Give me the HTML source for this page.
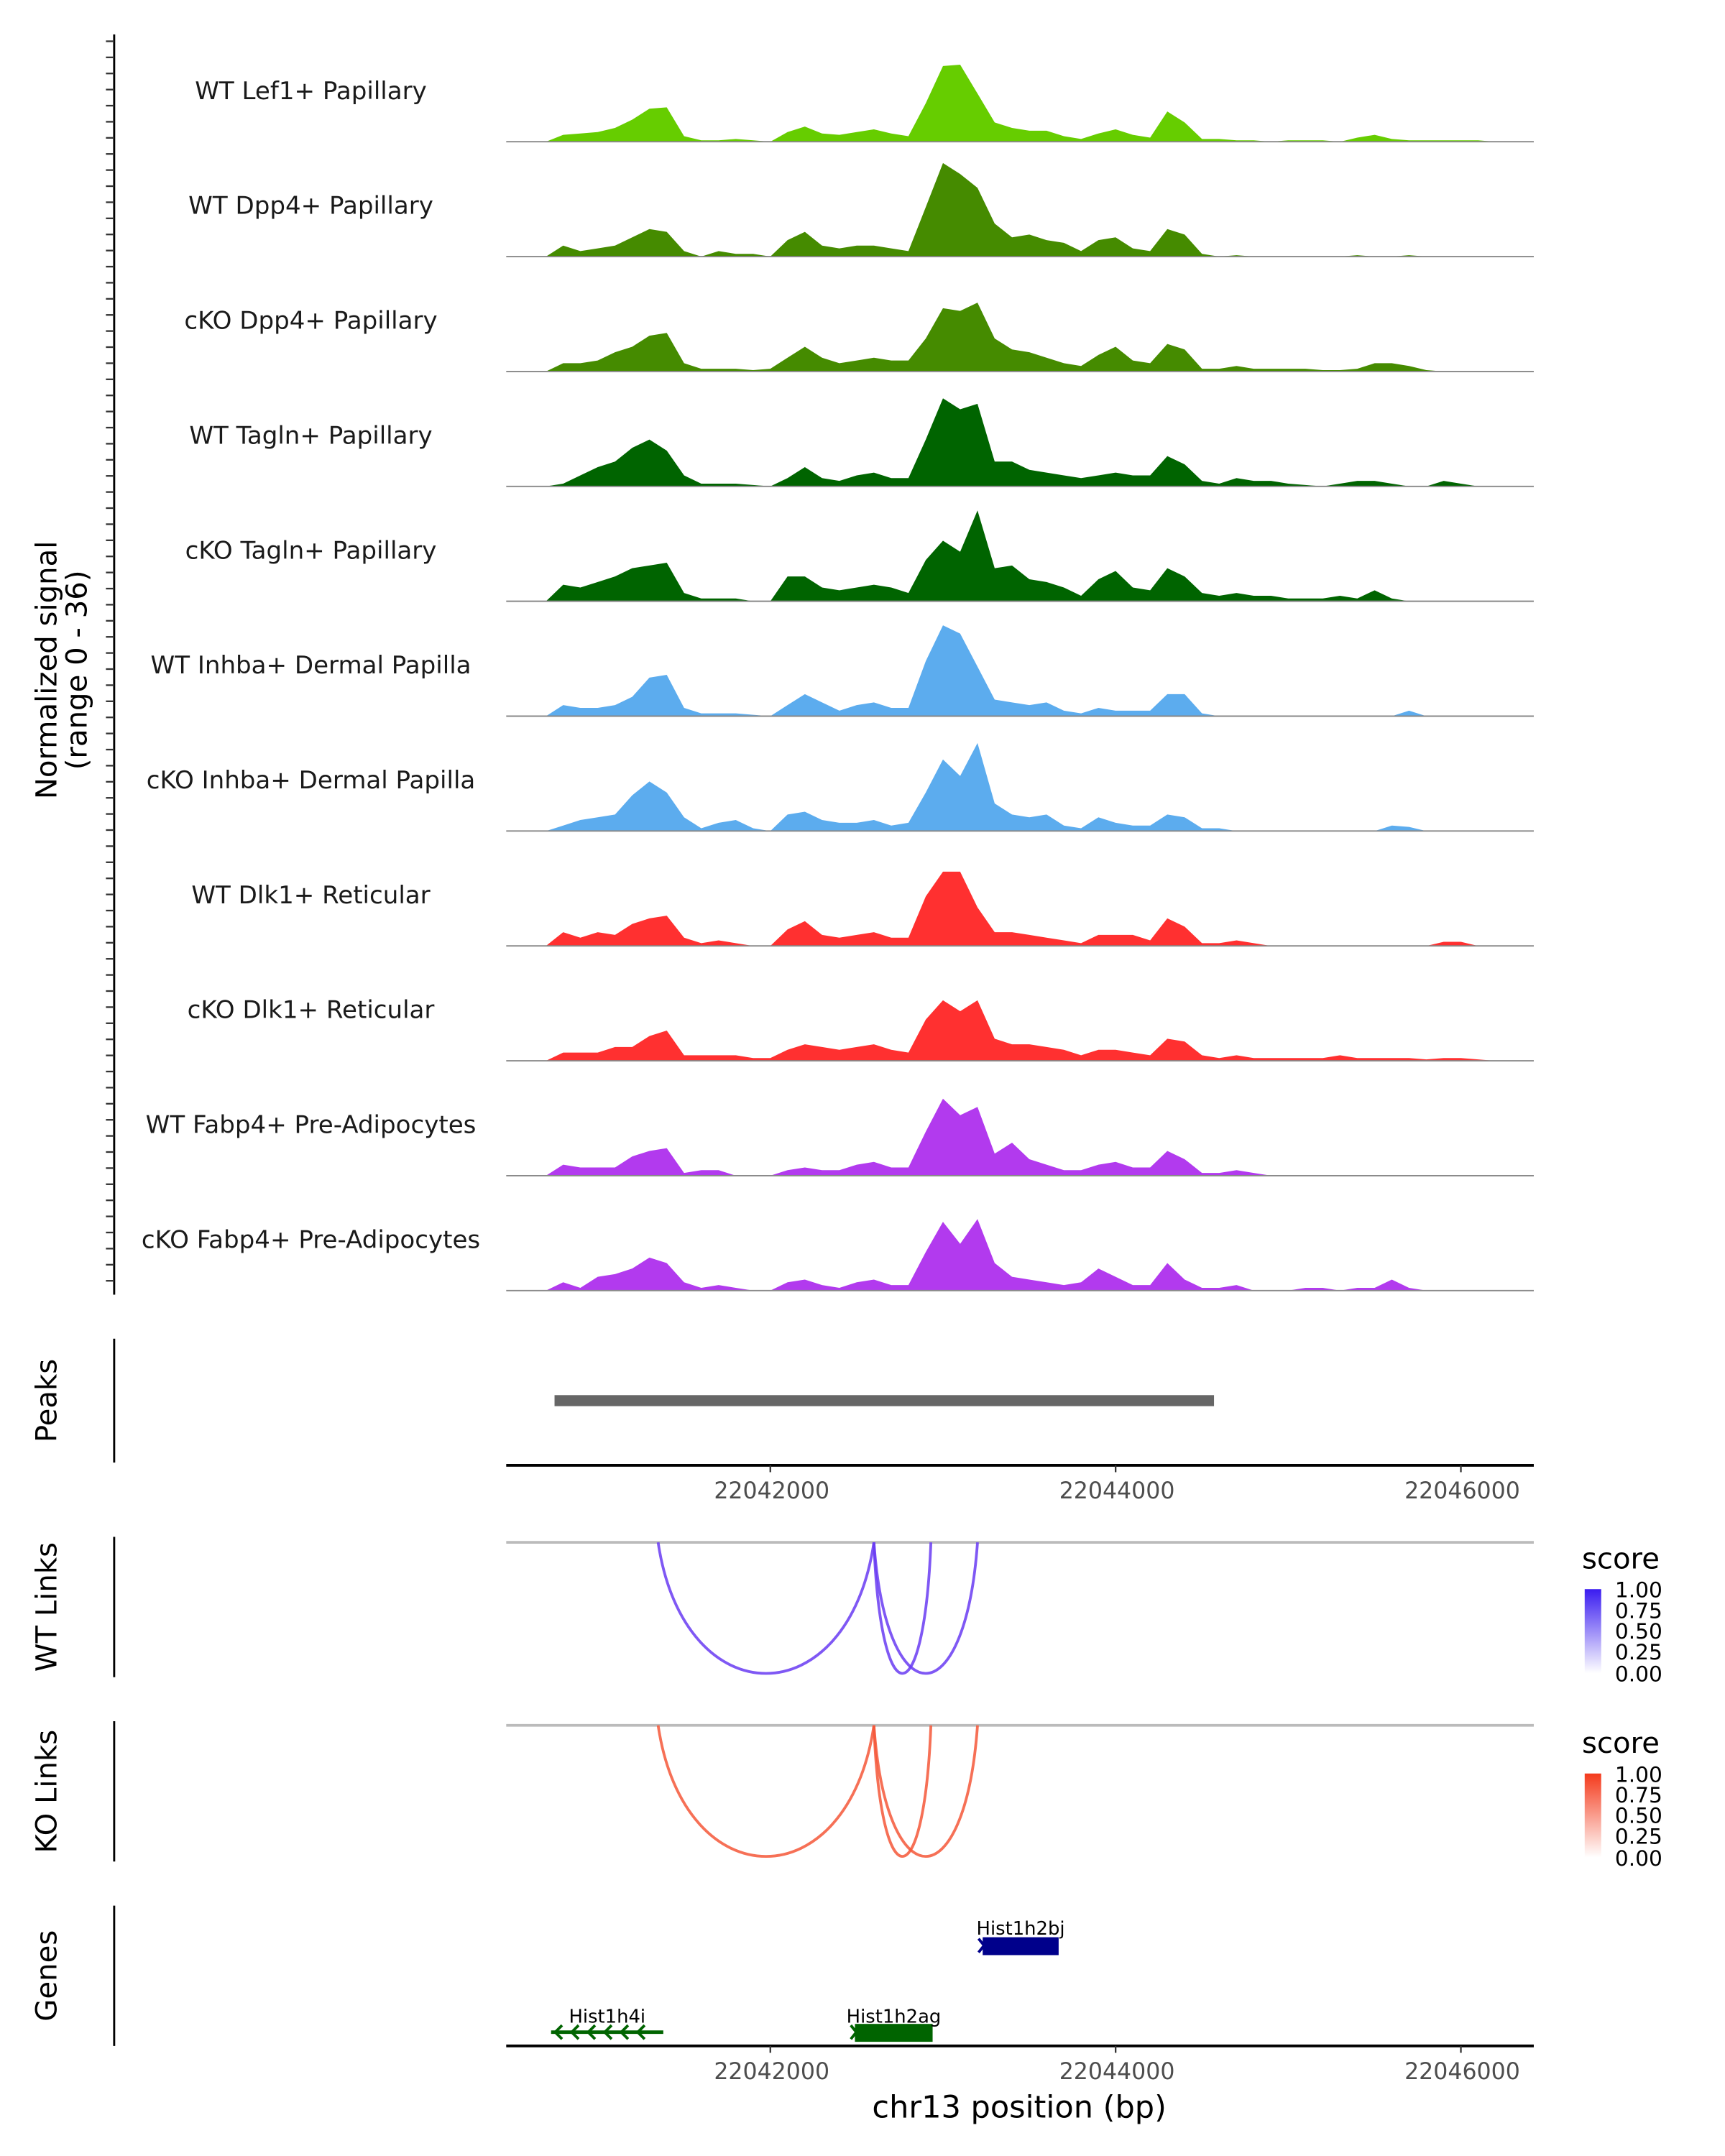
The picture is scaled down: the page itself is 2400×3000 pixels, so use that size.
<!DOCTYPE html>
<html><head><meta charset="utf-8"><style>
html,body{margin:0;padding:0;background:#fff}
svg{display:block}
text{font-family:"DejaVu Sans","Liberation Sans",sans-serif}
</style></head><body>
<svg id="chart" xmlns="http://www.w3.org/2000/svg" width="2400" height="3000" viewBox="0 0 1254 1567" preserveAspectRatio="none">
<defs>
<linearGradient id="gblue" x1="0" y1="1" x2="0" y2="0"><stop offset="0" stop-color="#ffffff"/><stop offset="1" stop-color="#3a1cf0"/></linearGradient>
<linearGradient id="gred" x1="0" y1="1" x2="0" y2="0"><stop offset="0" stop-color="#ffffff"/><stop offset="1" stop-color="#f43a1c"/></linearGradient>
</defs>
<g id="tracks"></g>
<line x1="83" y1="25" x2="83" y2="941" stroke="#000" stroke-width="1.5"/>
<g id="yticks"></g>
<text transform="translate(41,487) rotate(-90)" text-anchor="middle" font-size="21" fill="#000">Normalized signal</text>
<text transform="translate(63,487) rotate(-90)" text-anchor="middle" font-size="21" fill="#000">(range 0 - 36)</text>

<line x1="83" y1="973" x2="83" y2="1063" stroke="#000" stroke-width="1.5"/>
<text transform="translate(41,1018) rotate(-90)" text-anchor="middle" font-size="21">Peaks</text>
<g id="peaks"></g>
<g id="xaxis1"></g>

<line x1="83" y1="1117" x2="83" y2="1219" stroke="#000" stroke-width="1.5"/>
<text transform="translate(41,1168) rotate(-90)" text-anchor="middle" font-size="21">WT Links</text>
<g id="wtlinks"></g>
<line x1="83" y1="1251" x2="83" y2="1353" stroke="#000" stroke-width="1.5"/>
<text transform="translate(41,1302) rotate(-90)" text-anchor="middle" font-size="21">KO Links</text>
<g id="kolinks"></g>

<g>
<text x="1150" y="1140" font-size="21">score</text>
<rect x="1152" y="1155" width="12" height="61" fill="url(#gblue)"/>
<g font-size="15.5" fill="#000"><text x="1174" y="1161">1.00</text><text x="1174" y="1176">0.75</text><text x="1174" y="1191">0.50</text><text x="1174" y="1206">0.25</text><text x="1174" y="1222">0.00</text></g>
</g>
<g>
<text x="1150" y="1274" font-size="21">score</text>
<rect x="1152" y="1289" width="12" height="61" fill="url(#gred)"/>
<g font-size="15.5" fill="#000"><text x="1174" y="1295">1.00</text><text x="1174" y="1310">0.75</text><text x="1174" y="1325">0.50</text><text x="1174" y="1340">0.25</text><text x="1174" y="1356">0.00</text></g>
</g>

<line x1="83" y1="1385" x2="83" y2="1487" stroke="#000" stroke-width="1.5"/>
<text transform="translate(41,1436) rotate(-90)" text-anchor="middle" font-size="21">Genes</text>
<g id="genes"></g>
<g id="xaxis2"></g>
<text x="741" y="1539" text-anchor="middle" font-size="22.5">chr13 position (bp)</text>
</svg>
<script>
const NS="http://www.w3.org/2000/svg";
const binStart=22040700, binStep=100;
const trackLabels=["WT Lef1+ Papillary","WT Dpp4+ Papillary","cKO Dpp4+ Papillary","WT Tagln+ Papillary","cKO Tagln+ Papillary","WT Inhba+ Dermal Papilla","cKO Inhba+ Dermal Papilla","WT Dlk1+ Reticular","cKO Dlk1+ Reticular","WT Fabp4+ Pre-Adipocytes","cKO Fabp4+ Pre-Adipocytes"];
const trackColors=["#66cd00","#458b00","#458b00","#006400","#006400","#5cacee","#5cacee","#ff3030","#ff3030","#b23aee","#b23aee"];
const sLef1WT=[0,2.5,3,3.5,5,8,12,12.5,2,0.5,0.5,1,0.5,0,3.5,5.5,3,2.5,3.5,4.5,3,2,14,27.5,28,17.5,7,5,4,4,2,1,3,4.5,2.5,1.5,11,7,1,1,0.5,0.5,0,0.5,0.5,0.5,0,1.5,2.5,1,0.5,0.5,0.5,0.5,0.5,0];
const sDpp4WT=[0,4,2,3,4,7,10,9,2,0,2,1,1,0,6,9,4,3,4,4,3,2,18,34,30,25,12,7,8,6,5,2,6,7,3,2,10,8,1,0,0.5,0,0,0,0,0,0,0.5,0,0,0.5,0,0,0,0,0];
const sDpp4KO=[0,3,3,4,7,9,13,14,3,1,1,1,0.5,1,5,9,5,3,4,5,4,4,12,23,22,25,12,8,7,5,3,2,6,9,4,3,10,8,1,1,2,1,1,1,1,0.5,0.5,1,3,3,2,0.5,0,0,0,0];
const sTaglnWT=[0,1,4,7,9,14,17,13,4,1,1,1,0.5,0,3,7,3,2,4,5,3,3,17,32,28,30,9,9,6,5,4,3,4,5,4,4,11,8,2,1,3,2,2,1,0.5,0,1,2,2,1,0,0,2,1,0,0];
const sTaglnKO=[0,6,5,7,9,12,13,14,3,1,1,1,0,0,9,9,5,4,5,6,5,3,15,22,18,33,12,13,8,7,5,2,8,11,5,4,12,9,3,2,3,2,2,1,1,1,2,1,4,1,0,0,0,0,0,0];
const sInhbaWT=[0,4,3,3,4,7,14,15,3,1,1,1,0.5,0,4,8,5,2,4,5,3,3,20,33,30,18,6,5,4,5,2,1,3,2,2,2,8,8,1,0,0,0,0,0,0,0,0,0,0,0,2,0,0,0,0,0];
const sInhbaKO=[0,2,4,5,6,13,18,14,5,1,3,4,1,0,6,7,4,3,3,4,2,3,14,26,20,32,10,6,5,6,2,1,5,3,2,2,6,5,1,1,0,0,0,0,0,0,0,0,0,2,1.5,0,0,0,0,0];
const sDlk1WT=[0,5,3,5,4,8,10,11,3,1,2,1,0,0,6,9,4,3,4,5,3,3,18,27,27,14,5,5,4,3,2,1,4,4,4,2,10,7,1,1,2,1,0,0,0,0,0,0,0,0,0,0,1.5,1.5,0,0];
const sDlk1KO=[0,3,3,3,5,5,9,11,2,2,2,2,1,1,4,6,5,4,5,6,4,3,15,22,18,22,8,6,6,5,4,2,4,4,3,2,8,7,2,1,2,1,1,1,1,1,2,1,1,1,1,0.5,1,1,0.5,0];
const sFabp4WT=[0,4,3,3,3,7,9,10,1,2,2,0,0,0,2,3,2,2,4,5,3,3,16,28,22,25,8,12,6,4,2,2,4,5,3,3,9,6,1,1,2,1,0,0,0,0,0,0,0,0,0,0,0,0,0,0];
const sFabp4KO=[0,3,1,5,6,8,12,10,3,1,2,1,0,0,3,4,2,1,3,4,2,2,14,25,17,26,10,5,4,3,2,3,8,5,2,2,10,4,1,1,2,0,0,0,1,1,0,1,1,4,1,0,0,0,0,0];
const trackValues=[sLef1WT,sDpp4WT,sDpp4KO,sTaglnWT,sTaglnKO,sInhbaWT,sInhbaKO,sDlk1WT,sDlk1KO,sFabp4WT,sFabp4KO];
const yMax=36;
const xTicks=[22042000,22044000,22046000];
const peakStart=22040750, peakEnd=22044570;
const linkAnchors=[22041350,22042600,22042600];
const linkTargets=[22042600,22042930,22043200];
const wtScores=[0.8,0.8,0.8];
const koScores=[0.8,0.8,0.8];
const geneNames=["Hist1h2bj","Hist1h4i","Hist1h2ag"];
const geneStarts=[22043230,22040730,22042490];
const geneEnds=[22043670,22041380,22042940];
const geneStrand=["+","-","-"];

const X0=368,X1=1115;
function xs(bp){return 560+(bp-22042000)*0.1255;}
function el(tag,attrs,parent){const e=document.createElementNS(NS,tag);for(const k in attrs)e.setAttribute(k,attrs[k]);parent.appendChild(e);return e;}

const tracks=document.getElementById('tracks');
const trackH=72, base0=103, gap=83.5;
trackValues.forEach((vals,i)=>{
  const base=base0+i*gap;
  const ys=v=>base-v/yMax*trackH;
  let d="M"+xs(binStart).toFixed(1)+","+base;
  vals.forEach((v,j)=>{d+=" L"+xs(binStart+j*binStep).toFixed(1)+","+ys(v).toFixed(1);});
  d+=" L"+xs(binStart+(vals.length-1)*binStep).toFixed(1)+","+base+" Z";
  const a=el('path',{d:d,fill:trackColors[i]},tracks);
  
  
  const l=el('line',{x1:X0,x2:X1,y1:base,y2:base,stroke:'#888','stroke-width':1},tracks);
  
  
  const t=el('text',{x:226,y:base-31,'text-anchor':'middle','font-size':17.8,fill:'#1a1a1a'},tracks);
  t.textContent=trackLabels[i];
  
  
});
const yt=document.getElementById('yticks');
for(let y=30;y<=940;y+=11.7){
  const tk=el('line',{x1:77,x2:83,y1:y,y2:y,stroke:'#333','stroke-width':1.2},yt);
  
  
}
const pk=el('rect',{x:xs(peakStart),y:1014,width:xs(peakEnd)-xs(peakStart),height:8,fill:'#666'},document.getElementById('peaks'));



function axis(g,y){
  el('line',{x1:X0,x2:X1,y1:y,y2:y,stroke:'#000','stroke-width':2},g);
  xTicks.forEach(b=>{
    const x=xs(b);
    el('line',{x1:x,x2:x,y1:y,y2:y+5,stroke:'#333','stroke-width':1.2},g);
    const t=el('text',{x:x+1,y:y+24,'text-anchor':'middle','font-size':16.5,fill:'#4d4d4d'},g);
    t.textContent=b;
    
    
  });
}
axis(document.getElementById('xaxis1'),1065);
axis(document.getElementById('xaxis2'),1487);

function links(g,y0,color,scores){
  el('line',{x1:X0,x2:X1,y1:y0,y2:y0,stroke:'#bbb','stroke-width':2},g);
  linkAnchors.forEach((a,i)=>{
    const x1=xs(a),x2=xs(linkTargets[i]),k=127;
    const p=el('path',{d:`M${x1},${y0} C${x1+(x2-x1)*0.12},${y0+k} ${x2-(x2-x1)*0.12},${y0+k} ${x2},${y0}`,fill:'none',stroke:color,'stroke-width':2,'stroke-opacity':0.3+0.7*scores[i]},g);
    
    
  });
}
links(document.getElementById('wtlinks'),1121,'#6a3cf2',wtScores);
links(document.getElementById('kolinks'),1254,'#f4583a',koScores);

const gg=document.getElementById('genes');
geneNames.forEach((n,i)=>{
  const x1=xs(geneStarts[i]),x2=xs(geneEnds[i]);
  const y=i===0?1414:1477;
  const col=i===0?'#00008b':'#006400';
  const grp=el('g',{},gg);
  
  
  if(i===1){
    el('line',{x1:x1,x2:x2,y1:y,y2:y,stroke:col,'stroke-width':2.5},grp);
    for(let x=x1+3;x<x2-8;x+=12){el('path',{d:`M${x+5},${y-5} L${x},${y} L${x+5},${y+5}`,fill:'none',stroke:col,'stroke-width':2},grp);}
  } else {
    el('rect',{x:x1,y:y-6,width:x2-x1,height:13,fill:col},grp);
    el('path',{d:`M${x1-3},${y-5} L${x1+1},${y} L${x1-3},${y+5}`,fill:'none',stroke:col,'stroke-width':2},grp);
  }
  const t=el('text',{x:(x1+x2)/2,y:i===0?1406:1470,'text-anchor':'middle','font-size':13.5,fill:'#000'},grp);
  t.textContent=n;
});
</script>
</body></html>
